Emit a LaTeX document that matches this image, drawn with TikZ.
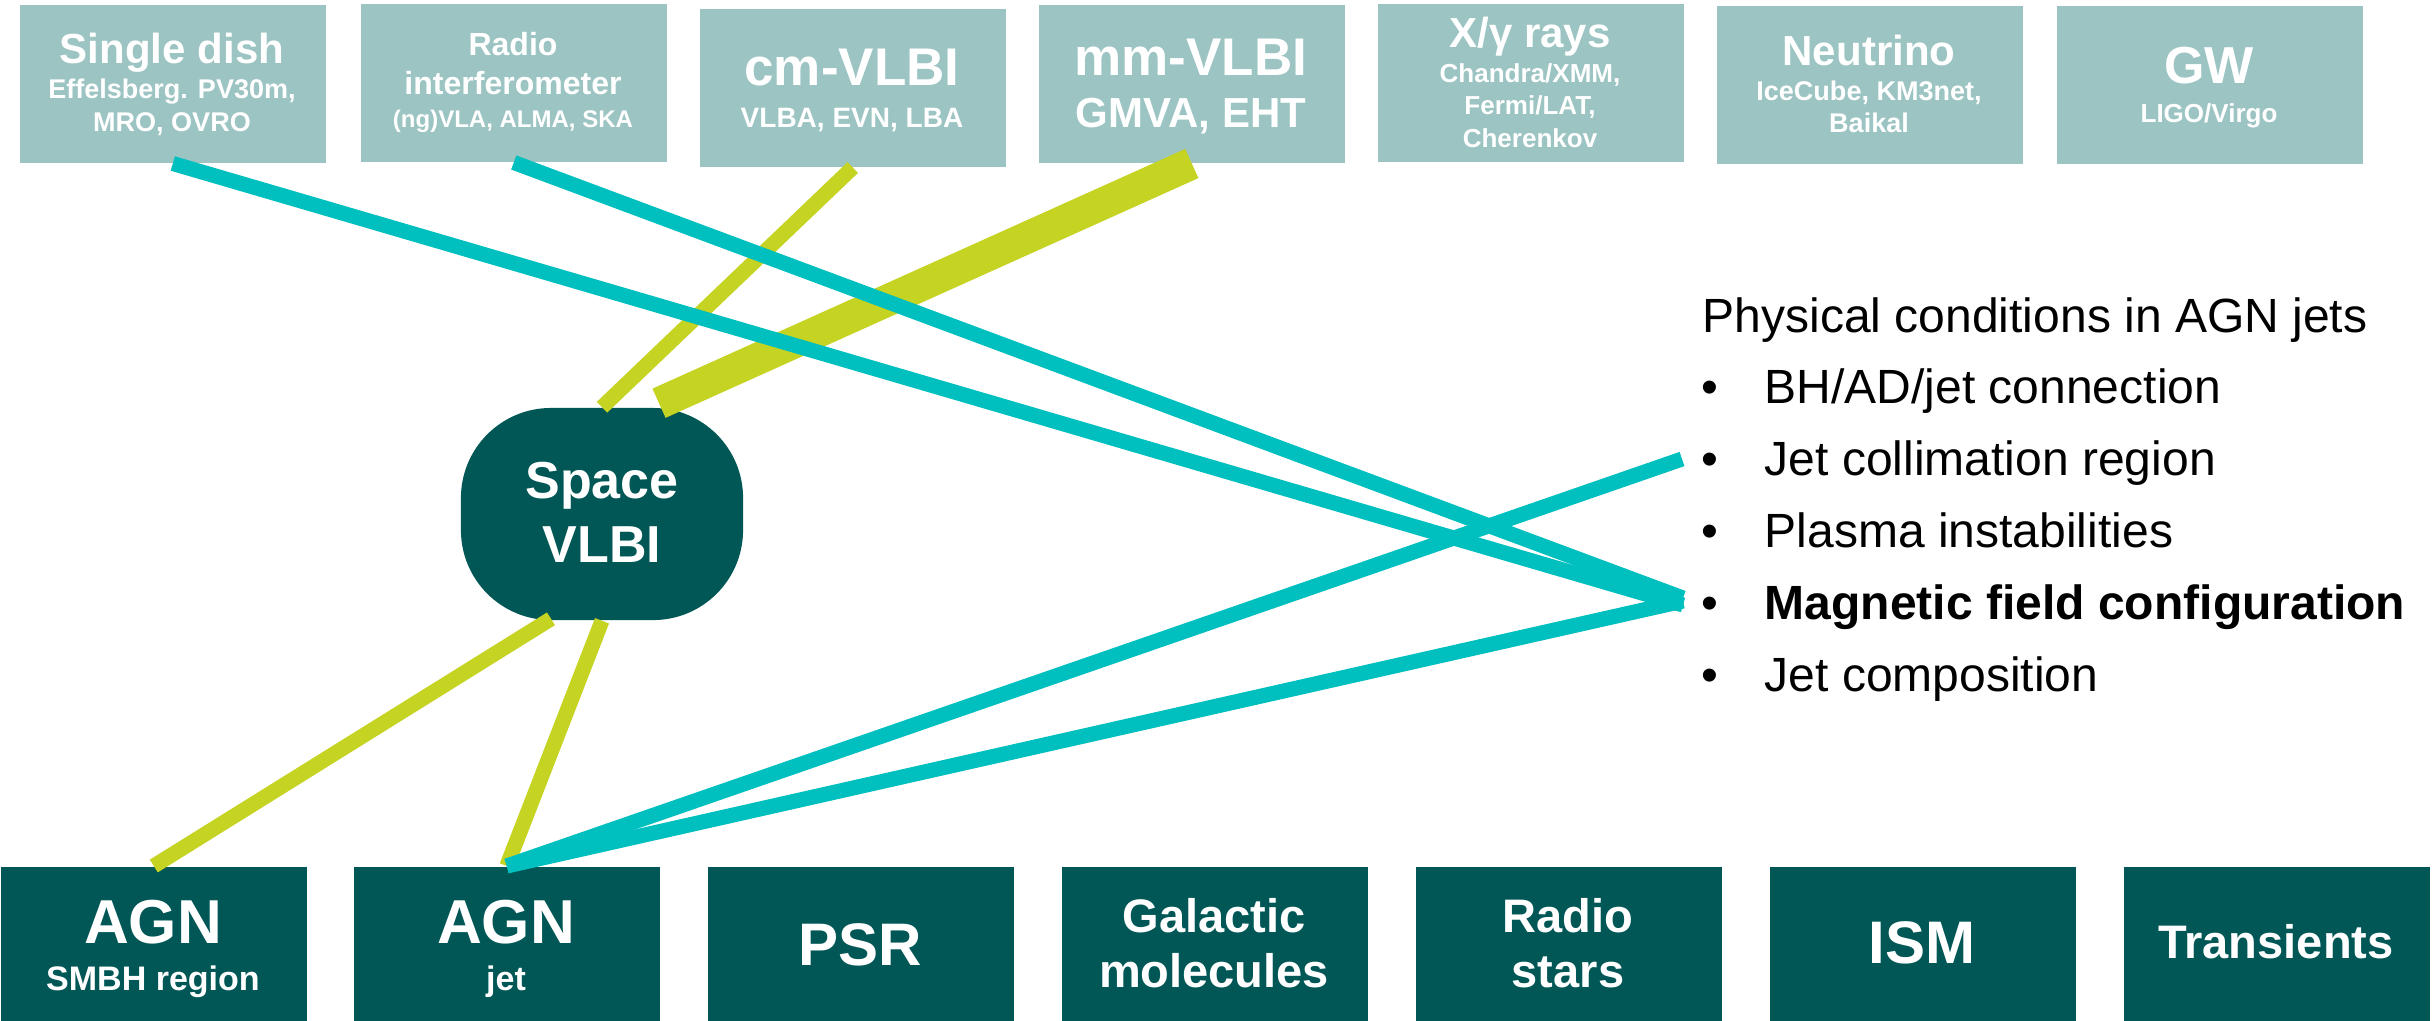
\documentclass[tikz,border=0pt]{standalone}
\usepackage{fontspec}
\setmainfont{Liberation Sans}
\usetikzlibrary{calc}
\definecolor{boxlight}{HTML}{9BC4C2}
\definecolor{boxdark}{HTML}{005756}
\definecolor{tealline}{HTML}{00BFBF}
\definecolor{limeline}{HTML}{C5D322}
\newcommand\pxfont[1]{\fontsize{\fpeval{#1*0.28453}pt}{\fpeval{#1*0.3414}pt}\selectfont}
\begin{document}
\begin{tikzpicture}[x=0.01cm,y=-0.01cm,
  topbox/.style={fill=boxlight, draw=none, minimum width=3.06cm, minimum height=1.58cm, inner sep=0, anchor=north west},
  botbox/.style={fill=boxdark, draw=none, minimum width=3.06cm, minimum height=1.60cm, inner sep=0, anchor=north west},
  spacebox/.style={fill=boxdark, draw=none, minimum width=2.82cm, minimum height=2.12cm, inner sep=0, rounded corners=0.9cm},
  lbl/.style={inner sep=0, anchor=base, text=white},
  rtxt/.style={inner sep=0, anchor=base west, text=black, font=\pxfont{48}},
  tealconn/.style={draw=tealline, line width=0.15cm},
  limethin/.style={draw=limeline, line width=0.15cm},
  limethick/.style={draw=limeline, line width=0.32cm}]
\useasboundingbox (0,0) rectangle (2433,1020);

% top row boxes
\node[topbox] (sd) at (19,4) {};
\node[topbox] (ri) at (360,3) {};
\node[topbox] (cm) at (699,8) {};
\node[topbox] (mm) at (1038,4) {};
\node[topbox] (xg) at (1377,3) {};
\node[topbox] (nu) at (1716,5) {};
\node[topbox] (gw) at (2056,5) {};

% top row labels
\node[lbl, font=\bfseries\pxfont{42}] (sd1) at (172,63) {Single dish};
\node[lbl, font=\bfseries\pxfont{27}] (sd2) at (172,98) {Effelsberg. PV30m,};
\node[lbl, font=\bfseries\pxfont{27}] (sd3) at (172,131) {MRO, OVRO};

\node[lbl, font=\bfseries\pxfont{32}] (ri1) at (513,55) {Radio};
\node[lbl, font=\bfseries\pxfont{32}] (ri2) at (513,94) {interferometer};
\node[lbl, font=\bfseries\pxfont{24}] (ri3) at (513,127) {(ng)VLA, ALMA, SKA};

\node[lbl, font=\bfseries\pxfont{53}] (cm1) at (852,85) {cm-VLBI};
\node[lbl, font=\bfseries\pxfont{28}] (cm2) at (852,127) {VLBA, EVN, LBA};

\node[lbl, font=\bfseries\pxfont{53}] (mm1) at (1191,75) {mm-VLBI};
\node[lbl, font=\bfseries\pxfont{42}] (mm2) at (1191,127) {GMVA, EHT};

\node[lbl, font=\bfseries\pxfont{42}] (xg1) at (1530,47) {X/γ rays};
\node[lbl, font=\bfseries\pxfont{26}] (xg2) at (1530,82) {Chandra/XMM,};
\node[lbl, font=\bfseries\pxfont{26}] (xg3) at (1530,114) {Fermi/LAT,};
\node[lbl, font=\bfseries\pxfont{26}] (xg4) at (1530,147) {Cherenkov};

\node[lbl, font=\bfseries\pxfont{42}] (nu1) at (1869,65) {Neutrino};
\node[lbl, font=\bfseries\pxfont{27}] (nu2) at (1869,100) {IceCube, KM3net,};
\node[lbl, font=\bfseries\pxfont{27}] (nu3) at (1869,132) {Baikal};

\node[lbl, font=\bfseries\pxfont{52}] (gw1) at (2209,83) {GW};
\node[lbl, font=\bfseries\pxfont{26}] (gw2) at (2209,122) {LIGO/Virgo};

% bottom row boxes
\node[botbox] (agn1) at (0,866) {};
\node[botbox] (agn2) at (353,866) {};
\node[botbox] (psr) at (707,866) {};
\node[botbox] (gal) at (1061,866) {};
\node[botbox] (rs) at (1415,866) {};
\node[botbox] (ism) at (1769,866) {};
\node[botbox] (tr) at (2123,866) {};

\node[lbl, font=\bfseries\pxfont{62}] (agn1a) at (153,943) {AGN};
\node[lbl, font=\bfseries\pxfont{34}] (agn1b) at (153,990) {SMBH region};
\node[lbl, font=\bfseries\pxfont{62}] (agn2a) at (506,943) {AGN};
\node[lbl, font=\bfseries\pxfont{34}] (agn2b) at (506,990) {jet};
\node[lbl, font=\bfseries\pxfont{60}] (psr1) at (860,965) {PSR};
\node[lbl, font=\bfseries\pxfont{47}] (gal1) at (1214,932) {Galactic};
\node[lbl, font=\bfseries\pxfont{47}] (gal2) at (1214,987) {molecules};
\node[lbl, font=\bfseries\pxfont{47}] (rs1) at (1568,932) {Radio};
\node[lbl, font=\bfseries\pxfont{47}] (rs2) at (1568,987) {stars};
\node[lbl, font=\bfseries\pxfont{60}] (ism1) at (1922,963) {ISM};
\node[lbl, font=\bfseries\pxfont{47}] (tr1) at (2276,958) {Transients};

% Space VLBI
\node[spacebox] (sv) at (602,514) {};
\node[lbl, font=\bfseries\pxfont{52}] (sv1) at (602,498) {Space};
\node[lbl, font=\bfseries\pxfont{52}] (sv2) at (602,562) {VLBI};

% right-hand text
\node[rtxt] (title) at (1702,332) {Physical conditions in AGN jets};
\node[rtxt] (b1) at (1701,403) {•};
\node[rtxt] (i1) at (1764,403) {BH/AD/jet connection};
\node[rtxt] (b2) at (1701,475) {•};
\node[rtxt] (i2) at (1764,475) {Jet collimation region};
\node[rtxt] (b3) at (1701,547) {•};
\node[rtxt] (i3) at (1764,547) {Plasma instabilities};
\node[rtxt] (b4) at (1701,619) {•};
\node[rtxt, font=\bfseries\pxfont{48}] (i4) at (1764,619) {Magnetic field configuration};
\node[rtxt] (b5) at (1701,691) {•};
\node[rtxt] (i5) at (1764,691) {Jet composition};

\coordinate (jc) at (1682,459);
\coordinate (mf) at (1683,601);

% lime connectors
\draw[limethin] (cm.south) -- (sv.north);
\draw[limethick] (mm.south) -- ($(sv.north)+(57,-4)$);
\draw[limethin] ($(sv.south)+(-51,-2)$) -- (agn1.north);
\draw[limethin] (sv.south) -- (agn2.north);

% teal connectors
\draw[tealconn] (sd.south) -- ($(mf)+(0,4)$);
\draw[tealconn] (ri.south) -- ($(mf)+(0,-3)$);
\draw[tealconn] (agn2.north) -- (jc);
\draw[tealconn] (agn2.north) -- (mf);
\end{tikzpicture}
\end{document}
